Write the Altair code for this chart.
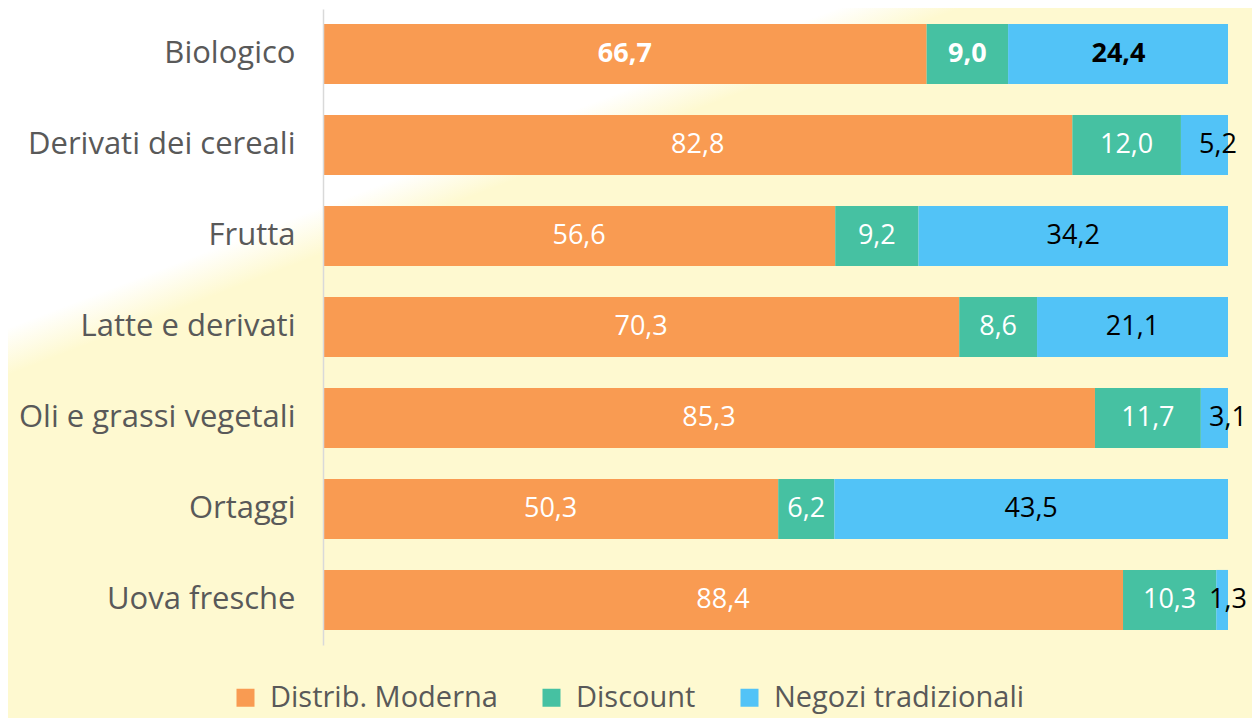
import altair as alt
import pandas as pd

categories = ["Biologico", "Derivati dei cereali", "Frutta", "Latte e derivati",
              "Oli e grassi vegetali", "Ortaggi", "Uova fresche"]
series = ["Distrib. Moderna", "Discount", "Negozi tradizionali"]
distrib_moderna = [66.7, 82.8, 56.6, 70.3, 85.3, 50.3, 88.4]
discount = [9.0, 12.0, 9.2, 8.6, 11.7, 6.2, 10.3]
negozi_tradizionali = [24.4, 5.2, 34.2, 21.1, 3.1, 43.5, 1.3]
colors = ["#F99B52", "#46C1A2", "#52C3F7"]

rows = []
for si, (s, vals) in enumerate(zip(series, [distrib_moderna, discount, negozi_tradizionali])):
    for c, v in zip(categories, vals):
        rows.append({"categoria": c, "serie": s, "ordine": si, "valore": v})
df = pd.DataFrame(rows)

FONT = "Open Sans"
BG = "#FEF9D0"

y_enc = alt.Y("categoria:N", sort=categories, title=None,
              scale=alt.Scale(paddingInner=0.34, paddingOuter=0.165),
              axis=alt.Axis(labelFontSize=31, labelColor="#595959", labelFont=FONT,
                            labelPadding=28, ticks=False, domainColor="#D9D9D9",
                            domainWidth=1.5, labelLimit=400, zindex=1))

base = alt.Chart(df)

bars = base.mark_bar().encode(
    x=alt.X("valore:Q", stack="zero", scale=alt.Scale(domain=[0, 100], nice=False, clamp=True),
            axis=None),
    y=y_enc,
    color=alt.Color("serie:N", sort=series,
                    scale=alt.Scale(domain=series, range=colors),
                    legend=alt.Legend(title=None, orient="none", direction="horizontal",
                                      legendX=-92, legendY=674,
                                      labelFontSize=29, labelColor="#595959", labelFont=FONT,
                                      labelLimit=400,
                                      symbolType="square", symbolSize=324,
                                      symbolStrokeWidth=0, labelOffset=10,
                                      columnPadding=39, zindex=1)),
    order=alt.Order("ordine:Q"),
)

lbl = base.transform_window(
    cum="sum(valore)", groupby=["categoria"], sort=[alt.SortField("ordine")]
).transform_calculate(
    mid="datum.cum - datum.valore / 2 + (datum.valore < 6 ? 1.5 : 0)",
    testo="replace(format(datum.valore, '.1f'), '.', ',')",
    colore="datum.ordine == 2 ? '#000000' : '#FFFFFF'",
)

text_enc = dict(
    x=alt.X("mid:Q", scale=alt.Scale(domain=[0, 100], nice=False)),
    y=alt.Y("categoria:N", sort=categories),
    text="testo:N",
    color=alt.Color("colore:N", scale=None),
)

txt_normal = lbl.transform_filter("datum.categoria != 'Biologico'").mark_text(
    font=FONT, fontSize=27, baseline="middle", align="center").encode(**text_enc)
txt_bold = lbl.transform_filter("datum.categoria == 'Biologico'").mark_text(
    font=FONT, fontSize=27, fontWeight="bold", baseline="middle", align="center").encode(**text_enc)

bg = alt.Chart(pd.DataFrame({"k": [0]})).mark_rect(
    color=alt.Gradient(
        gradient="linear",
        stops=[alt.GradientStop(color="#FFFFFF", offset=0),
               alt.GradientStop(color="#FFFFFF", offset=0.42),
               alt.GradientStop(color=BG, offset=0.48),
               alt.GradientStop(color=BG, offset=1)],
        x1=0, y1=0, x2=0.5, y2=0.746),
    clip=False,
).encode(x=alt.value(-323), x2=alt.value(945), y=alt.value(-9), y2=alt.value(720))

chart = alt.layer(bg, bars, txt_normal, txt_bold).properties(
    width=905, height=636,
    background=BG,
    autosize=alt.AutoSizeParams(type="none"),
    padding={"left": 315, "top": 1, "right": 24, "bottom": 80},
).configure_view(stroke=None)

chart.save("out.html", embed_options={"renderer": "svg", "actions": False})
